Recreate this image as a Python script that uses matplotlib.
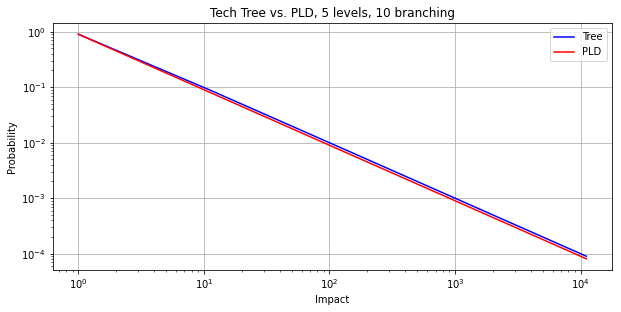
import matplotlib
matplotlib.use("Agg")
import matplotlib.pyplot as plt

impact = [1, 11, 111, 1111, 11111]
tree_prob = [0.9, 0.09, 0.009, 0.0009, 0.00009]
pld_prob = [0.9, 0.0818, 0.0081, 0.00081, 0.000081]

fig = plt.figure(figsize=(621/72, 312/72), dpi=72)
ax = fig.add_axes([53/621, 1-270/312, (611.7-53)/621, (270-23)/312])
ax.plot(impact, tree_prob, color='blue', label='Tree')
ax.plot(impact, pld_prob, color='red', label='PLD')
ax.set_xscale('log')
ax.set_yscale('log')
ax.grid(True, which='major')
ax.set_xlabel('Impact')
ax.set_ylabel('Probability')
ax.set_title('Tech Tree vs. PLD, 5 levels, 10 branching')
ax.legend(loc='upper right')
fig.savefig('out.png', dpi=72)
